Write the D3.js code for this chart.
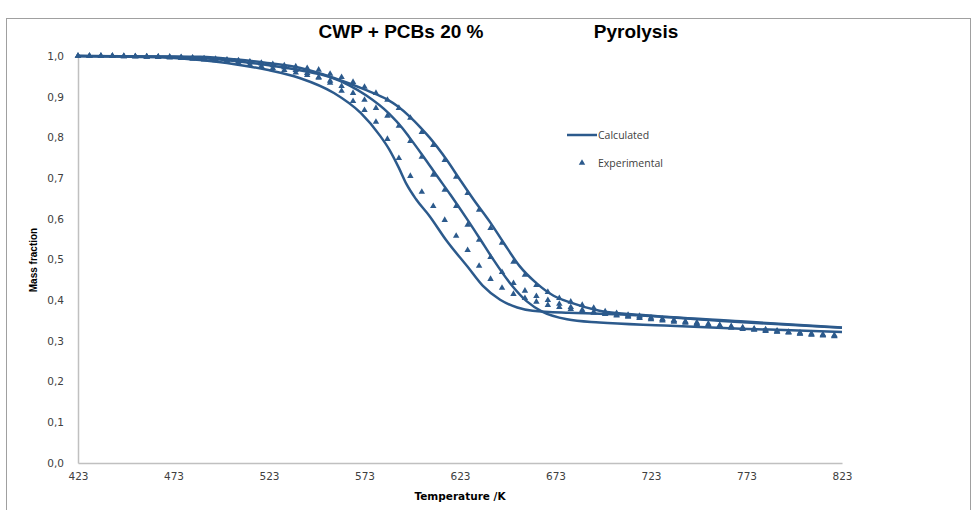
<!DOCTYPE html>
<html lang="en">
<head>
	<meta charset="utf-8">
	<title>CWP + PCBs 20 % Pyrolysis</title>
	<script type="text/javascript" src="https://cdn.jsdelivr.net/npm/d3@7/dist/d3.min.js"></script>
</head>
<style type="text/css">
	body{
		margin: 0;
		background-color: white;
	}
	.tickLabel{
		font-family: "DejaVu Sans", sans-serif;
		font-size: 10.5px;
		fill: #404040;
	}
	.axisTitle{
		font-family: "DejaVu Sans", sans-serif;
		font-weight: bold;
		font-size: 10.5px;
		fill: #000;
	}
	.title{
		font-family: "Liberation Sans", sans-serif;
		font-weight: bold;
		font-size: 19px;
		fill: #000;
	}
	.legendText{
		font-family: "Open Sans", sans-serif;
		font-size: 10.5px;
		fill: #404040;
	}
</style>
<body>

<div id="vizContainer"></div>

<script type="text/javascript">

// -----------PART 1: THE DATA-----------

// axis ticks
var xTicks = [423, 473, 523, 573, 623, 673, 723, 773, 823];
var yTicks = [0, 0.1, 0.2, 0.3, 0.4, 0.5, 0.6, 0.7, 0.8, 0.9, 1.0];

// calculated curves (temperature in K, mass fraction)
var calc1T = [423, 470, 487, 505, 522, 539, 557, 571, 581, 586, 591, 595, 600, 607, 616, 627, 635, 644, 653, 661, 680, 696, 720, 760, 823];
var calc1M = [1.000, 0.996, 0.990, 0.980, 0.966, 0.946, 0.909, 0.860, 0.805, 0.770, 0.725, 0.685, 0.648, 0.607, 0.546, 0.482, 0.435, 0.401, 0.382, 0.374, 0.369, 0.367, 0.362, 0.349, 0.332];

var calc2T = [423, 470, 487, 505, 522, 539, 555, 565, 574, 586, 593, 597, 604, 611, 618, 626, 633, 640, 649, 658, 666, 679, 696, 730, 770, 823];
var calc2M = [1.000, 0.998, 0.995, 0.988, 0.978, 0.965, 0.948, 0.928, 0.903, 0.858, 0.822, 0.797, 0.752, 0.705, 0.659, 0.604, 0.554, 0.503, 0.443, 0.397, 0.372, 0.353, 0.345, 0.338, 0.330, 0.322];

var calc3T = [423, 470, 487, 505, 522, 539, 557, 574, 585, 590, 597, 602, 607, 616, 623, 630, 639, 646, 654, 663, 672, 681, 696, 717, 770, 823];
var calc3M = [1.000, 0.999, 0.998, 0.992, 0.983, 0.971, 0.946, 0.916, 0.893, 0.878, 0.850, 0.826, 0.800, 0.745, 0.696, 0.648, 0.590, 0.540, 0.485, 0.442, 0.411, 0.394, 0.374, 0.364, 0.348, 0.333];

// experimental points, all three runs share the same temperatures
var expT = [423, 429, 435, 441, 447, 453, 459, 465, 471, 477, 483, 489, 495, 501, 507, 513, 519, 525, 531, 537,
	543, 549, 555, 561, 567, 573, 579, 585, 591, 597, 603, 609, 615, 621, 627, 633, 639, 645, 651, 657,
	663, 669, 675, 681, 687, 693, 699, 705, 711, 717, 723, 729, 735, 741, 747, 753, 759, 765, 771, 777,
	783, 789, 795, 801, 807, 813, 819];

var exp1M = [1.000, 1.000, 1.000, 1.000, 0.999, 0.999, 0.998, 0.998, 0.997, 0.996, 0.995, 0.993, 0.991, 0.989, 0.987, 0.984, 0.981, 0.977, 0.972, 0.965,
	0.958, 0.948, 0.934, 0.914, 0.889, 0.867, 0.838, 0.796, 0.749, 0.705, 0.666, 0.631, 0.597, 0.558, 0.523, 0.484, 0.452, 0.430, 0.415, 0.405,
	0.396, 0.388, 0.383, 0.378, 0.373, 0.369, 0.366, 0.362, 0.359, 0.356, 0.353, 0.350, 0.347, 0.344, 0.341, 0.338, 0.335, 0.332, 0.329, 0.327,
	0.324, 0.322, 0.320, 0.317, 0.315, 0.313, 0.311];

var exp2M = [1.000, 1.000, 1.000, 1.000, 0.999, 0.999, 0.998, 0.997, 0.996, 0.995, 0.993, 0.991, 0.989, 0.986, 0.983, 0.979, 0.975, 0.970, 0.965, 0.959,
	0.953, 0.946, 0.939, 0.926, 0.909, 0.892, 0.872, 0.853, 0.828, 0.791, 0.752, 0.708, 0.671, 0.631, 0.585, 0.548, 0.506, 0.469, 0.442, 0.423,
	0.410, 0.400, 0.391, 0.383, 0.376, 0.371, 0.367, 0.364, 0.361, 0.358, 0.355, 0.352, 0.349, 0.346, 0.343, 0.340, 0.337, 0.334, 0.331, 0.328,
	0.326, 0.323, 0.321, 0.318, 0.316, 0.314, 0.312];

var exp3M = [1.000, 1.000, 1.000, 1.000, 1.000, 0.999, 0.999, 0.998, 0.998, 0.997, 0.996, 0.994, 0.993, 0.991, 0.989, 0.986, 0.983, 0.980, 0.977, 0.974,
	0.970, 0.966, 0.956, 0.948, 0.936, 0.924, 0.909, 0.892, 0.872, 0.848, 0.813, 0.781, 0.744, 0.703, 0.663, 0.622, 0.577, 0.541, 0.494, 0.462,
	0.437, 0.420, 0.405, 0.396, 0.388, 0.381, 0.372, 0.368, 0.364, 0.361, 0.357, 0.354, 0.351, 0.348, 0.345, 0.342, 0.339, 0.336, 0.333, 0.330,
	0.328, 0.325, 0.322, 0.320, 0.318, 0.316, 0.314];

// -----------PART 2: SETTING UP THE CANVAS-----------
var width = 977;
var height = 510;
var blue = "#2c5a8c";

var svgCanvas = d3.select("#vizContainer").append("svg")
	.attr("width", width)
	.attr("height", height)
	.style("display", "block");

svgCanvas.append("rect")
	.attr("width", width)
	.attr("height", height)
	.attr("fill", "white");

// outer chart frame (runs past the bottom of the picture)
svgCanvas.append("rect")
	.attr("x", 6.5)
	.attr("y", 18.5)
	.attr("width", 964)
	.attr("height", 520)
	.attr("fill", "none")
	.attr("stroke", "#a0a0a0")
	.attr("stroke-width", 1);

var xScale = d3.scaleLinear()
	.domain([423, 823])
	.range([78, 842]);

var yScale = d3.scaleLinear()
	.domain([0, 1])
	.range([463, 56]);

// -----------PART 3: DRAWING ON THE CANVAS-----------

// axes: plain grey lines, labels only
var xAxis = d3.axisBottom(xScale).tickValues(xTicks).tickSize(0).tickPadding(10);
var yAxis = d3.axisLeft(yScale).tickValues(yTicks).tickSize(0).tickPadding(14)
	.tickFormat(function(d){ return d3.format(".1f")(d).replace(".", ","); });

var gx = svgCanvas.append("g")
	.attr("transform", "translate(0," + yScale(0) + ")")
	.call(xAxis);
var gy = svgCanvas.append("g")
	.attr("transform", "translate(" + xScale(423) + ",0)")
	.call(yAxis);

[gx, gy].forEach(function(g){
	g.attr("font-size", null).attr("font-family", null);
	g.select(".domain").attr("stroke", "#c0c0c0").attr("stroke-width", 1.5);
	g.selectAll("text").attr("class", "tickLabel");
});

// titles
svgCanvas.append("text")
	.attr("class", "title")
	.attr("x", 401)
	.attr("y", 38)
	.attr("text-anchor", "middle")
	.text("CWP + PCBs 20 %");

svgCanvas.append("text")
	.attr("class", "title")
	.attr("x", 636)
	.attr("y", 38)
	.attr("text-anchor", "middle")
	.text("Pyrolysis");

svgCanvas.append("text")
	.attr("class", "axisTitle")
	.attr("x", 460)
	.attr("y", 500)
	.attr("text-anchor", "middle")
	.text("Temperature /K");

svgCanvas.append("text")
	.attr("class", "axisTitle")
	.attr("transform", "translate(37,260) rotate(-90)")
	.attr("text-anchor", "middle")
	.style("font-family", "'Liberation Sans', sans-serif")
	.style("font-size", "10px")
	.text("Mass fraction");

// calculated lines
var lineGen = d3.line()
	.x(function(d){ return xScale(d[0]); })
	.y(function(d){ return yScale(d[1]); })
	.curve(d3.curveMonotoneX);

var calcSeries = [d3.zip(calc1T, calc1M), d3.zip(calc2T, calc2M), d3.zip(calc3T, calc3M)];

svgCanvas.selectAll(".calc")
	.data(calcSeries)
	.enter()
	.append("path")
	.attr("class", "calc")
	.attr("d", lineGen)
	.attr("fill", "none")
	.attr("stroke", blue)
	.attr("stroke-width", 2.5);

// experimental triangles
var tri = d3.symbol().type(d3.symbolTriangle).size(18);
var expSeries = [exp1M, exp2M, exp3M];

var expGroups = svgCanvas.selectAll(".exp")
	.data(expSeries)
	.enter()
	.append("g")
	.attr("class", "exp");

expGroups.selectAll("path")
	.data(function(d){ return d3.zip(expT, d); })
	.enter()
	.append("path")
	.attr("d", tri)
	.attr("transform", function(d){
		return "translate(" + xScale(d[0]) + "," + yScale(d[1]) + ")";
	})
	.attr("fill", blue);

// legend
var legend = svgCanvas.append("g");
legend.append("line")
	.attr("x1", 567).attr("x2", 597)
	.attr("y1", 135).attr("y2", 135)
	.attr("stroke", blue)
	.attr("stroke-width", 2.5);
legend.append("text")
	.attr("class", "legendText")
	.attr("x", 598)
	.attr("y", 139)
	.text("Calculated");
legend.append("path")
	.attr("d", tri)
	.attr("transform", "translate(582,163)")
	.attr("fill", blue);
legend.append("text")
	.attr("class", "legendText")
	.attr("x", 598)
	.attr("y", 167)
	.text("Experimental");

</script>
</body>
</html>
